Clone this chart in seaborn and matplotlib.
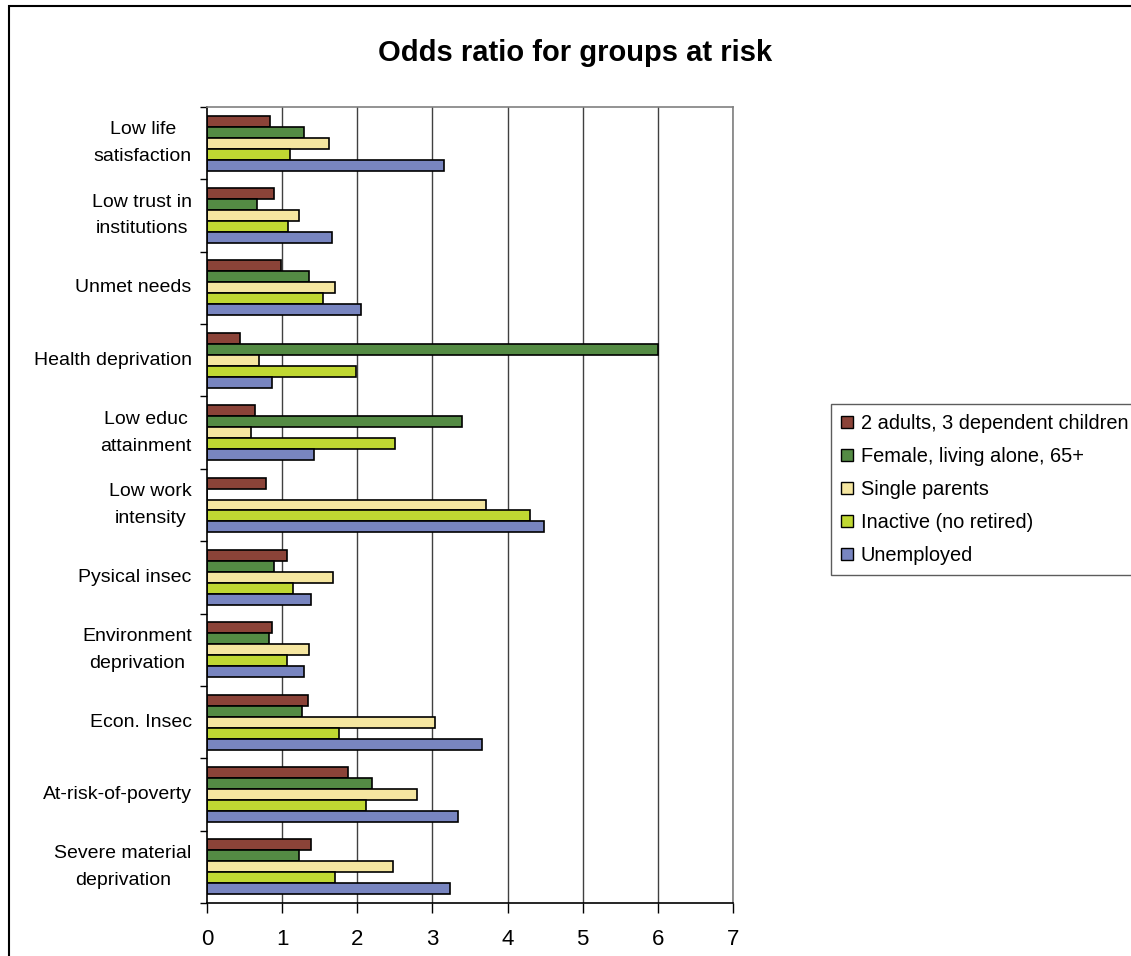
import pandas as pd
import numpy as np
import matplotlib
matplotlib.use('Agg')
import matplotlib.pyplot as plt
import matplotlib.patches as mpatches
import seaborn as sns

categorias = ['Low life\nsatisfaction', 'Low trust in\ninstitutions', 'Unmet needs',
              'Health deprivation', 'Low educ\nattainment', 'Low work\nintensity',
              'Pysical insec', 'Environment\ndeprivation', 'Econ. Insec',
              'At-risk-of-poverty', 'Severe material\ndeprivation']
grupos = ['2 adults, 3 dependent children', 'Female, living alone, 65+',
          'Single parents', 'Inactive (no retired)', 'Unemployed']

dos_adultos = [0.84, 0.89, 0.99, 0.44, 0.64, 0.79, 1.06, 0.87, 1.34, 1.88, 1.38]
mujer_sola = [1.29, 0.66, 1.36, 6.00, 3.39, 0.0, 0.89, 0.83, 1.26, 2.20, 1.23]
monoparental = [1.63, 1.23, 1.70, 0.69, 0.59, 3.71, 1.68, 1.36, 3.04, 2.79, 2.48]
inactivos = [1.11, 1.08, 1.55, 1.98, 2.50, 4.30, 1.14, 1.06, 1.75, 2.12, 1.70]
parados = [3.16, 1.66, 2.05, 0.87, 1.43, 4.48, 1.38, 1.29, 3.66, 3.34, 3.24]

colores = ['#8B4338', '#548B44', '#F5E6A0', '#C0D832', '#7885C0']

valores = [dos_adultos, mujer_sola, monoparental, inactivos, parados]
filas = []
for g, serie in zip(grupos, valores):
    for c, v in zip(categorias, serie):
        filas.append({'categoria': c, 'grupo': g, 'valor': v})
df = pd.DataFrame(filas)

sns.set_style('white')
plt.rcParams['font.family'] = ['Liberation Sans', 'DejaVu Sans']
plt.rcParams['text.color'] = 'black'
plt.rcParams['xtick.labelcolor'] = 'black'
plt.rcParams['ytick.labelcolor'] = 'black'

fig = plt.figure(figsize=(11.31, 9.56), dpi=100)
W, H = 1131, 956
ax = fig.add_axes([207 / W, 1 - 903 / H, (733 - 207) / W, (903 - 107) / H])

sns.barplot(data=df, y='categoria', x='valor', hue='grupo', order=categorias,
            hue_order=grupos, palette=colores, width=0.76, edgecolor='black',
            linewidth=1.2, saturation=1, ax=ax, legend=False)

ax.set_xlim(0, 7)
ax.set_ylim(len(categorias) - 0.5, -0.5)
ax.set_xticks(range(0, 8))
ax.tick_params(axis='x', labelsize=16, length=7, width=1, direction='out',
               color='black', bottom=True, pad=12)
ax.tick_params(axis='y', which='major', labelsize=14, length=0, pad=11)
ax.set_yticks(np.arange(-0.5, len(categorias)), minor=True)
ax.tick_params(axis='y', which='minor', length=5, width=1, color='black', left=True)
for lbl in ax.get_yticklabels():
    lbl.set_multialignment('center')
    lbl.set_linespacing(1.75)
    lbl.set_verticalalignment('center')

for x in range(1, 8):
    ax.axvline(x, color='#404040', lw=1, zorder=0)
ax.set_xlabel('')
ax.set_ylabel('')
for lado in ['top', 'right']:
    ax.spines[lado].set_color('#808080')
    ax.spines[lado].set_linewidth(1.2)
for lado in ['left', 'bottom']:
    ax.spines[lado].set_color('black')
    ax.spines[lado].set_linewidth(1.2)

fig.text(575 / W, 1 - 53 / H, 'Odds ratio for groups at risk', ha='center', va='center',
         fontsize=21, fontweight='bold', color='black')

handles = [mpatches.Patch(facecolor=c, edgecolor='black', lw=1) for c in colores]
leg = fig.legend(handles, grupos, loc='upper left', bbox_to_anchor=(831 / W, 1 - 404 / H),
                 bbox_transform=fig.transFigure, frameon=True, fancybox=False,
                 edgecolor='#333333', fontsize=14.4, handlelength=0.6, handleheight=0.6,
                 handletextpad=0.4, labelspacing=0.7, borderpad=0.5, borderaxespad=0)
leg.get_frame().set_linewidth(1)

fig.patches.append(mpatches.Rectangle((9 / W, -0.1), 2, 1 - 6 / H + 0.1, fill=False,
                                      edgecolor='black', lw=1.5, transform=fig.transFigure))

fig.savefig('out.png', dpi=100)
